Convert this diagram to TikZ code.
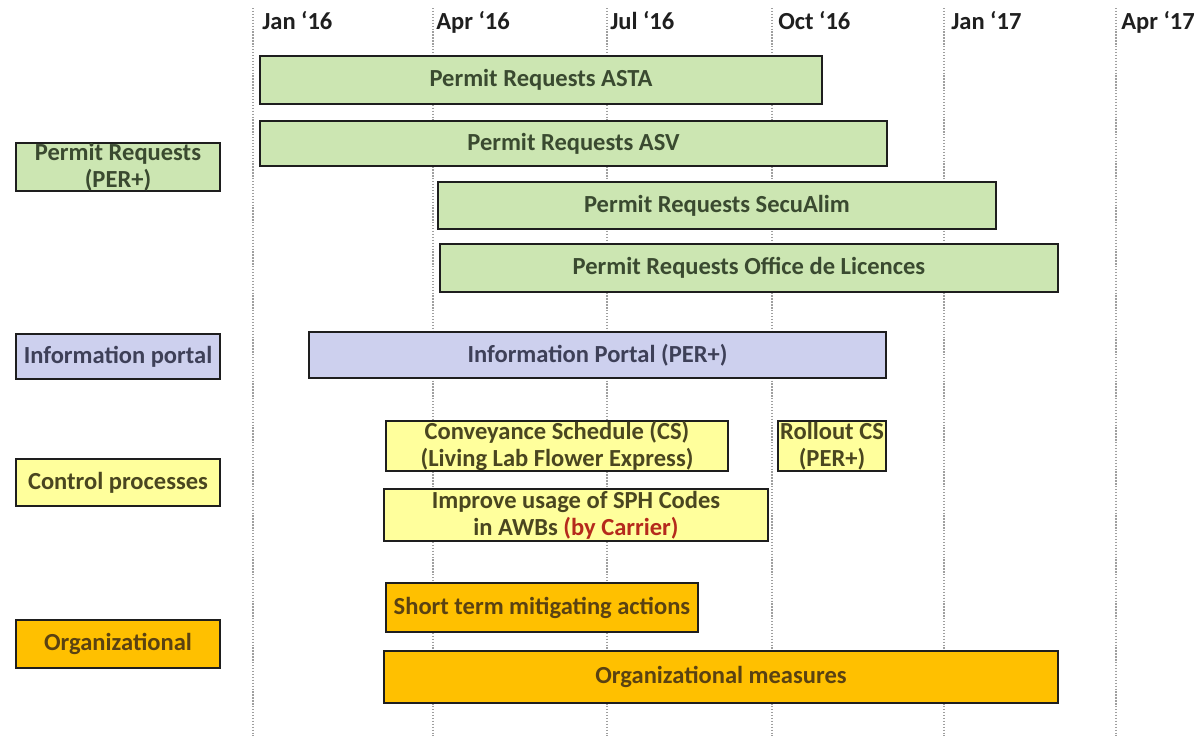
\documentclass[tikz,border=0pt]{standalone}
\usepackage{fontspec}
\setmainfont{Carlito}
\definecolor{grnfill}{HTML}{CCE6B2}
\definecolor{grntext}{HTML}{3A4A30}
\definecolor{lavfill}{HTML}{CDD0EE}
\definecolor{lavtext}{HTML}{3E4058}
\definecolor{yelfill}{HTML}{FFFF9C}
\definecolor{yeltext}{HTML}{4A4620}
\definecolor{orgfill}{HTML}{FFC000}
\definecolor{orgtext}{HTML}{5A4212}
\definecolor{carrier}{HTML}{B52A1C}
\definecolor{barline}{HTML}{1E1E1E}
\tikzset{
  bar/.style={draw=barline, line width=1.4pt, inner sep=0pt, outer sep=0pt,
    anchor=north west, align=center, font=\bfseries\fontsize{18.4}{20.5}\selectfont},
  grnbar/.style={bar, fill=grnfill, text=grntext},
  lavbar/.style={bar, fill=lavfill, text=lavtext},
  yelbar/.style={bar, fill=yelfill, text=yeltext},
  orgbar/.style={bar, fill=orgfill, text=orgtext},
  monthline/.style={draw=gray!75, line width=0.9pt, dash pattern=on 1pt off 1.2pt},
  month/.style={anchor=base west, inner sep=0pt, text=black!88,
    font=\bfseries\fontsize{18.4}{20.5}\selectfont}
}
\begin{document}
\begin{tikzpicture}[x=0.75pt,y=-0.75pt]
	\useasboundingbox (0,0) rectangle (1200,736);
	\foreach \x/\tx/\lbl [count=\i] in {253/262/Jan ‘16,433/436/Apr ‘16,607/610/Jul ‘16,
			772/778/Oct ‘16,944/951/Jan ‘17,1116/1121/Apr ‘17} {
		\draw[monthline] (\x,8) -- (\x,736);
		\node[month] (m\i) at (\tx,29) {\lbl};
	}
	% categories
	\node[grnbar, minimum width=153pt, minimum height=35.25pt] (catpermit) at (16,143) {Permit Requests\\(PER+)};
	\node[lavbar, minimum width=153pt, minimum height=33.75pt] (catportal) at (16,334) {Information portal};
	\node[yelbar, minimum width=153pt, minimum height=35.25pt] (catcontrol) at (16,459) {Control processes};
	\node[orgbar, minimum width=153pt, minimum height=36pt] (catorg) at (16,620) {Organizational};
	% permit requests
	\node[grnbar, minimum width=421.5pt, minimum height=36pt] (asta) at (260,56) {Permit Requests ASTA};
	\node[grnbar, minimum width=470.25pt, minimum height=33.75pt] (asv) at (260,121) {Permit Requests ASV};
	\node[grnbar, minimum width=418.5pt, minimum height=35.25pt] (secualim) at (438,182) {Permit Requests SecuAlim};
	\node[grnbar, minimum width=463.5pt, minimum height=36pt] (licences) at (440,244) {Permit Requests Office de Licences};
	% portal
	\node[lavbar, minimum width=432.75pt, minimum height=34.5pt] (portal) at (309,332) {Information Portal (PER+)};
	% control processes
	\node[yelbar, minimum width=256.5pt, minimum height=37.5pt] (convey) at (386,421) {Conveyance Schedule (CS)\\(Living Lab Flower Express)};
	\node[yelbar, minimum width=81pt, minimum height=37.5pt] (rollout) at (778,421) {Rollout CS\\(PER+)};
	\node[yelbar, minimum width=288pt, minimum height=39pt] (sphcodes) at (384,489) {Improve usage of SPH Codes\\in AWBs {\color{carrier}(by Carrier)}};
	% organizational
	\node[orgbar, minimum width=234pt, minimum height=36.75pt] (shortterm) at (386,583) {Short term mitigating actions};
	\node[orgbar, minimum width=505.5pt, minimum height=39pt] (measures) at (384,651) {Organizational measures};
\end{tikzpicture}
\end{document}
